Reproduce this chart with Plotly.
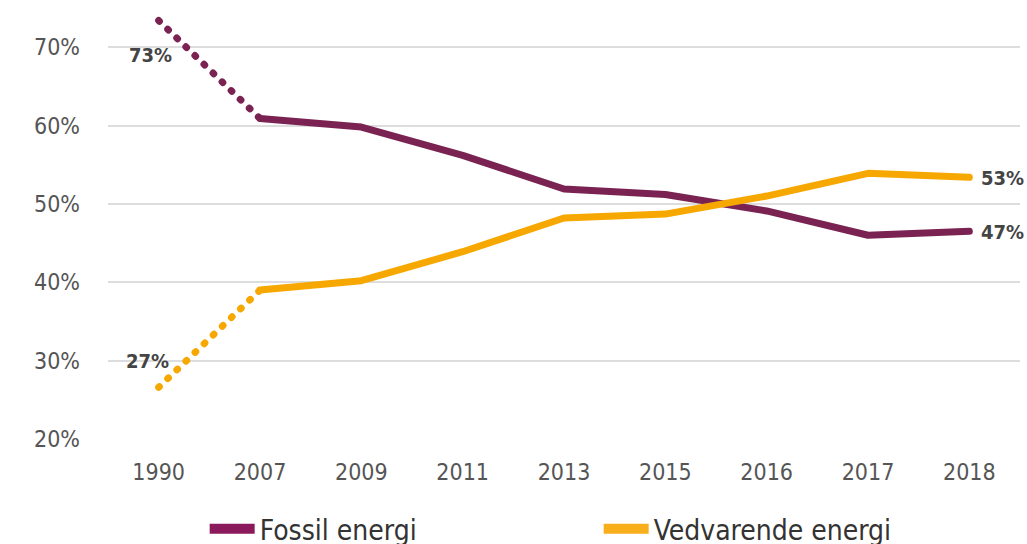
import plotly.graph_objects as go

years = ["1990", "2007", "2009", "2011", "2013", "2015", "2016", "2017", "2018"]
fossil = [73.4, 60.9, 59.8, 56.2, 51.9, 51.2, 49.1, 46.0, 46.5]
renew = [26.6, 39.0, 40.2, 43.9, 48.2, 48.7, 51.0, 53.9, 53.4]
series_names = ["Fossil energi", "Vedvarende energi"]
line_colors = ["#7A2352", "#F7A800"]
legend_colors = ["#8B1A5C", "#F9AE1B"]
yticks = [20, 30, 40, 50, 60, 70]
ytick_text = ["20%", "30%", "40%", "50%", "60%", "70%"]
start_labels = ["73%", "27%"]
end_labels = ["47%", "53%"]

FONT = "DejaVu Sans Condensed, Liberation Sans Narrow, sans-serif"

fig = go.Figure()
for vals, col in zip([fossil, renew], line_colors):
    # dotted segment 1990-2007
    fig.add_trace(go.Scatter(x=years[:2], y=vals[:2], mode="lines",
                             line=dict(color=col, width=7, dash="1px,11.6px"),
                             showlegend=False, hoverinfo="skip"))
    # solid segment 2007-2018
    fig.add_trace(go.Scatter(x=years[1:], y=vals[1:], mode="lines",
                             line=dict(color=col, width=7),
                             showlegend=False, hoverinfo="skip"))

for name, col in zip(series_names, legend_colors):
    fig.add_trace(go.Scatter(x=[None], y=[None], mode="lines", name=name,
                             line=dict(color=col, width=17)))

lab_font = dict(family=FONT, size=20, color="#444444", weight="bold")
first = 0
last = len(years) - 1
# start labels
fig.add_annotation(x=first, y=fossil[0], text=start_labels[0],
                   showarrow=False, xshift=-8, yshift=-34, font=lab_font)
fig.add_annotation(x=first, y=renew[0], text=start_labels[1],
                   showarrow=False, xshift=-11, yshift=26, font=lab_font)
# end labels
fig.add_annotation(x=last, y=fossil[-1], text=end_labels[0],
                   showarrow=False, xanchor="left", xshift=10, yshift=-1, font=lab_font)
fig.add_annotation(x=last, y=renew[-1], text=end_labels[1],
                   showarrow=False, xanchor="left", xshift=10, yshift=-1, font=lab_font)

tick_font = dict(family=FONT, size=23, color="#555555")

fig.update_layout(
    width=1027, height=544,
    margin=dict(l=108, r=7, t=8, b=105, autoexpand=False),
    plot_bgcolor="white", paper_bgcolor="white",
    xaxis=dict(type="category", range=[-0.5, 8.5], showgrid=False, zeroline=False,
               showline=False, ticks="", ticklabelstandoff=17, tickfont=tick_font,
               automargin=False),
    yaxis=dict(range=[20, 75], tickvals=yticks, ticktext=ytick_text,
               showgrid=True, gridcolor="#DDDDDD", gridwidth=1.5, zeroline=False,
               showline=False, ticks="", ticklabelstandoff=27, tickfont=tick_font,
               automargin=False),
    legend=dict(orientation="h", x=0.106, xanchor="left", xref="paper",
                y=(544 - 529) / 544, yanchor="middle", yref="container",
                itemwidth=45, entrywidth=334, entrywidthmode="pixels",
                font=dict(family=FONT, size=28, color="#333333")),
    showlegend=True,
)

post = ("document.documentElement.style.margin='0';"
        "document.body.style.margin='0';document.body.style.overflow='hidden';"
        "var s=document.createElement('style');"
        "s.textContent='.scatterlayer .js-line{stroke-linecap:round;stroke-linejoin:round;}';"
        "document.head.appendChild(s);")
fig.write_html("out.html", post_script=post, config={"displayModeBar": False})
